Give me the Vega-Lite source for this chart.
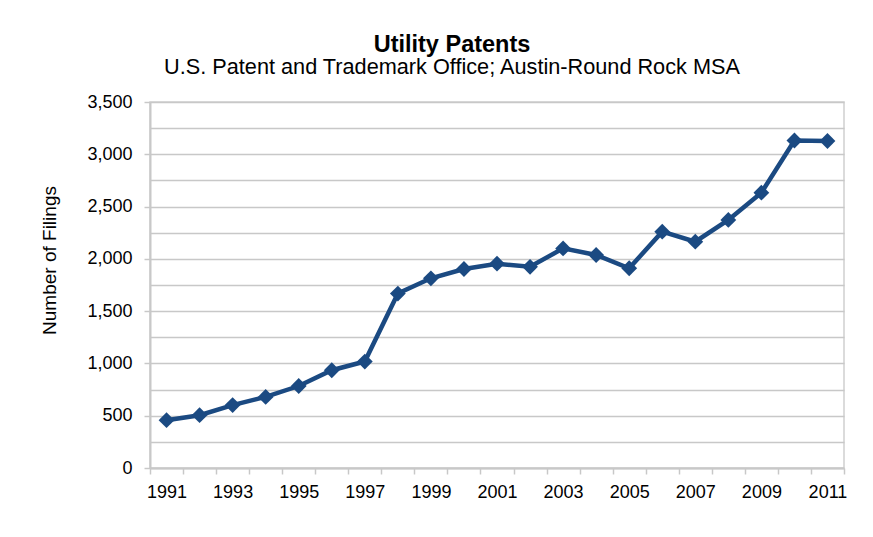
{
  "$schema": "https://vega.github.io/schema/vega-lite/v6.json",
  "autosize": {"type": "none"},
  "width": 694,
  "height": 366,
  "padding": {"left": 150, "top": 102, "right": 29, "bottom": 69},
  "background": "white",
  "title": {
    "text": "Utility Patents",
    "subtitle": "U.S. Patent and Trademark Office; Austin-Round Rock MSA",
    "anchor": "middle",
    "frame": "group",
    "font": "Liberation Sans",
    "fontSize": 23.5,
    "fontWeight": "bold",
    "color": "black",
    "subtitleFont": "Liberation Sans",
    "subtitleFontSize": 21.7,
    "subtitleColor": "black",
    "subtitlePadding": 1,
    "offset": 14,
    "dx": -45
  },
  "config": {
    "view": {"stroke": "#d0d0d0", "strokeWidth": 1.5},
    "font": "Liberation Sans"
  },
  "data": {
    "values": [
      {"year": "1991", "filings": 457},
      {"year": "1992", "filings": 505},
      {"year": "1993", "filings": 602},
      {"year": "1994", "filings": 680},
      {"year": "1995", "filings": 784},
      {"year": "1996", "filings": 935},
      {"year": "1997", "filings": 1018},
      {"year": "1998", "filings": 1668},
      {"year": "1999", "filings": 1814},
      {"year": "2000", "filings": 1903},
      {"year": "2001", "filings": 1954},
      {"year": "2002", "filings": 1924},
      {"year": "2003", "filings": 2100},
      {"year": "2004", "filings": 2037},
      {"year": "2005", "filings": 1910},
      {"year": "2006", "filings": 2260},
      {"year": "2007", "filings": 2164},
      {"year": "2008", "filings": 2372},
      {"year": "2009", "filings": 2633},
      {"year": "2010", "filings": 3132},
      {"year": "2011", "filings": 3127}
    ]
  },
  "encoding": {
    "x": {
      "field": "year",
      "type": "ordinal",
      "scale": {"type": "band", "paddingInner": 0, "paddingOuter": 0},
      "axis": {
        "title": null,
        "labelAngle": 0,
        "labelFontSize": 18,
        "labelColor": "black",
        "labelPadding": 9,
        "labelExpr": "toNumber(datum.value) % 2 == 1 ? datum.value : ''",
        "tickBand": "extent",
        "tickSize": 6,
        "tickColor": "#c8c8c8",
        "tickWidth": 1.5,
        "domainColor": "#c8c8c8",
        "domainWidth": 2,
        "grid": false
      }
    },
    "y": {
      "field": "filings",
      "type": "quantitative",
      "scale": {"domain": [0, 3500], "nice": false},
      "axis": {
        "title": "Number of Filings",
        "titleFontSize": 19,
        "titleFontWeight": "normal",
        "titleColor": "black",
        "titleX": -95,
        "titleY": 158,
        "titleAngle": 270,
        "titleAlign": "center",
        "titleBaseline": "alphabetic",
        "values": [0, 250, 500, 750, 1000, 1250, 1500, 1750, 2000, 2250, 2500, 2750, 3000, 3250, 3500],
        "labelExpr": "datum.value % 500 == 0 ? format(datum.value, ',') : ''",
        "labelFontSize": 18,
        "labelColor": "black",
        "labelPadding": 12,
        "tickSize": 6,
        "tickWidth": 1.5,
        "tickColor": {"condition": {"test": "datum.value % 500 == 0", "value": "#c8c8c8"}, "value": "transparent"},
        "domainColor": "#c8c8c8",
        "domainWidth": 2,
        "grid": true,
        "gridColor": "#c8c8c8",
        "gridWidth": 1.5
      }
    }
  },
  "layer": [
    {"mark": {"type": "line", "color": "#1b4a82", "strokeWidth": 4.5}},
    {"mark": {"type": "point", "shape": "diamond", "filled": true, "color": "#1b4a82", "opacity": 1, "size": 250}}
  ]
}
